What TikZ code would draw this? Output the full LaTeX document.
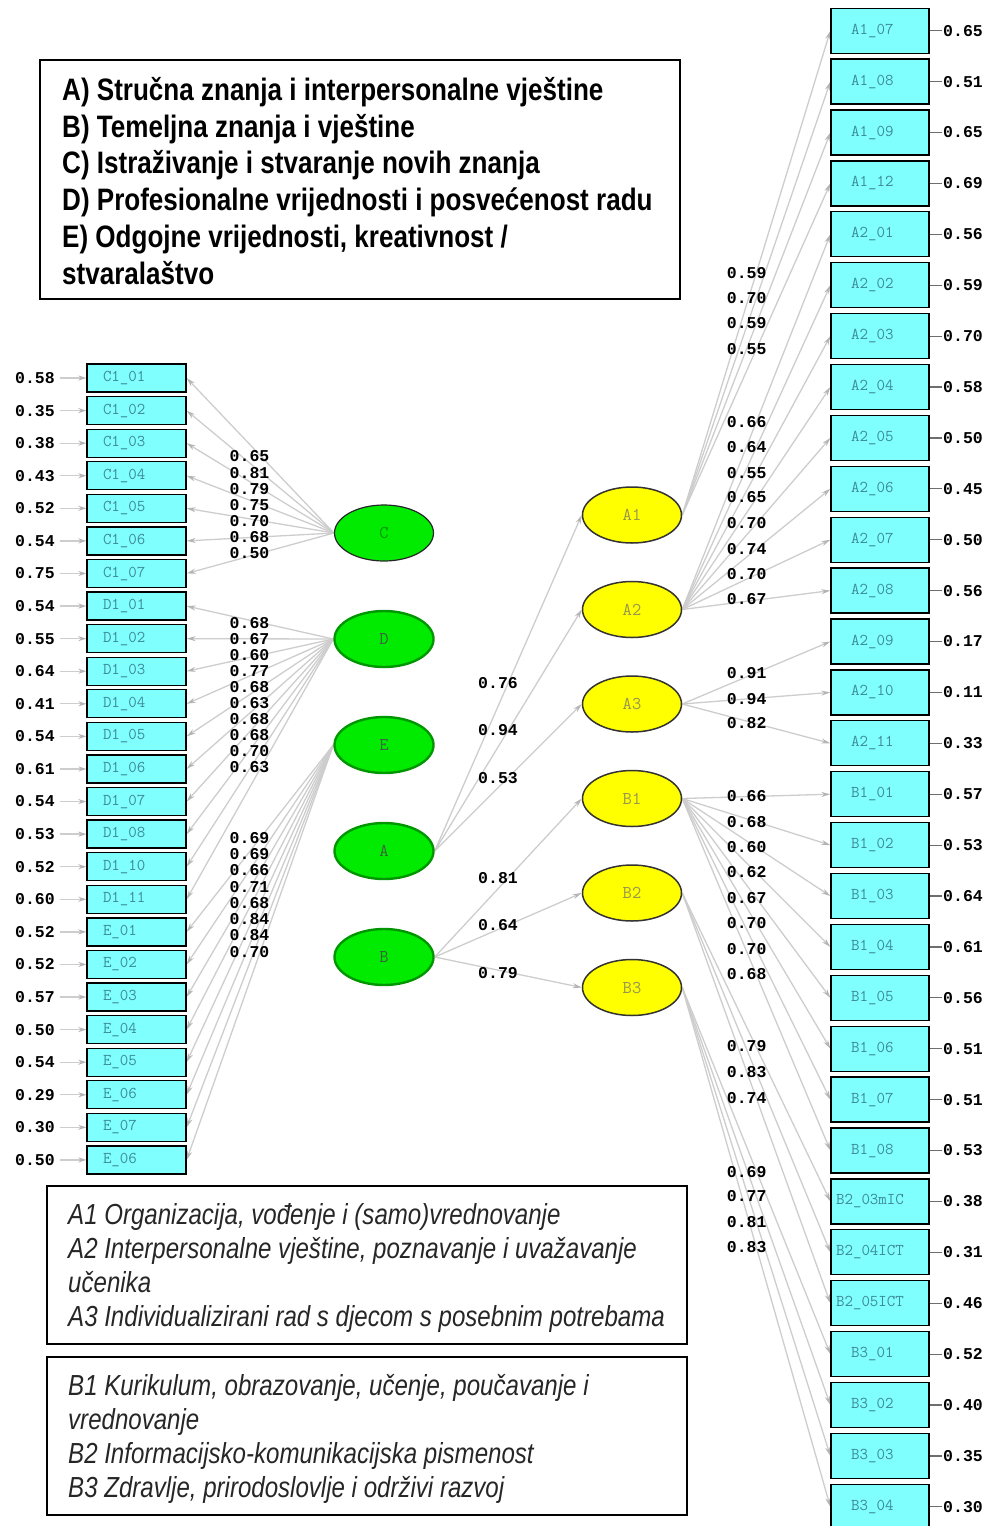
\documentclass[tikz,border=0pt]{standalone}
\usepackage{fontspec}
\setmainfont{Liberation Sans}
\newfontfamily\legfont[FakeStretch=0.84]{Liberation Sans}
\newfontfamily\legifont[FakeStretch=0.83]{Liberation Sans}
\newfontfamily\monof{Liberation Mono}
\usetikzlibrary{arrows.meta,shapes.geometric}
\pgfdeclarelayer{background}
\pgfsetlayers{background,main}

\definecolor{cyanbox}{RGB}{128,255,255}
\definecolor{boxtext}{RGB}{60,140,150}
\definecolor{latgreen}{RGB}{0,235,0}
\definecolor{latgreenline}{RGB}{0,150,0}
\definecolor{latyellow}{RGB}{255,255,0}
\definecolor{yeltext}{RGB}{150,150,80}
\definecolor{linegray}{RGB}{205,205,205}
\definecolor{tipgray}{RGB}{180,180,180}
\definecolor{errgray}{RGB}{110,110,110}
\definecolor{ctext}{RGB}{0,150,0}
\definecolor{lattext}{RGB}{60,100,60}

\tikzset{
  lbox/.style={draw=black, line width=1.3pt, fill=cyanbox, minimum width=99pt,
    minimum height=28pt, inner ysep=0pt, inner xsep=16pt, text width=67pt,
    align=left, text=boxtext, font=\ttfamily\fontsize{16.5}{18}\selectfont},
  rbox/.style={lbox, minimum width=98pt, minimum height=45pt, inner xsep=20pt,
    text width=58pt},
  rboxwide/.style={rbox, inner xsep=5pt, text width=88pt},
  num/.style={inner sep=1.5pt, text=black, font=\monof\bfseries\fontsize{16.5}{18}\selectfont},
  greenlat/.style={ellipse, draw=latgreenline, line width=2.4pt, fill=latgreen,
    minimum width=99pt, minimum height=56pt, inner sep=0pt, text=lattext,
    font=\ttfamily\fontsize{18}{19}\selectfont},
  yellat/.style={ellipse, draw=black!80, line width=1.5pt, fill=latyellow,
    minimum width=99pt, minimum height=56pt, inner sep=0pt, text=yeltext,
    font=\ttfamily\fontsize{18}{19}\selectfont},
  load/.style={draw=linegray, line width=1.3pt,
    -{Stealth[length=9pt,width=5pt,color=tipgray]}},
  errleft/.style={draw=linegray, line width=1.3pt,
    -{Stealth[length=8pt,width=5pt,color=tipgray]}},
  errright/.style={draw=errgray, line width=1.2pt},
  legbox/.style={draw=black, line width=1.5pt},
  legbold/.style={anchor=base west, inner sep=0pt,
    font=\legfont\bfseries\fontsize{31}{36}\selectfont},
  legital/.style={anchor=base west, inner sep=0pt, text=black!85,
    font=\legifont\itshape\fontsize{29}{34}\selectfont},
}

\begin{document}
\begin{tikzpicture}[x=1pt,y=-1pt]
\useasboundingbox (0,0) rectangle (988,1526);
\clip (0,0) rectangle (988,1526);

% ---- legend of the second-order factors
\draw[legbox] (40,60) rectangle (680,299);
\node[legbold] (ta) at (62,100.5) {A) Stručna znanja i interpersonalne vještine};
\node[legbold] (tb) at (62,137.2) {B) Temeljna znanja i vještine};
\node[legbold] (tc) at (62,173.9) {C) Istraživanje i stvaranje novih znanja};
\node[legbold] (td) at (62,210.6) {D) Profesionalne vrijednosti i posvećenost radu};
\node[legbold] (te) at (62,247.3) {E) Odgojne vrijednosti, kreativnost /};
\node[legbold] (tf) at (62,284.0) {stvaralaštvo};

% ---- legends of the first-order factors
\draw[legbox] (47,1186) rectangle (687,1344);
\node[legital] (la1) at (68,1224) {A1 Organizacija, vođenje i (samo)vrednovanje};
\node[legital] (la2) at (68,1258) {A2 Interpersonalne vještine, poznavanje i uvažavanje};
\node[legital] (la3) at (68,1292) {učenika};
\node[legital] (la4) at (68,1326) {A3 Individualizirani rad s djecom s posebnim potrebama};
\draw[legbox] (47,1357) rectangle (687,1515);
\node[legital] (lb1t) at (68,1395) {B1 Kurikulum, obrazovanje, učenje, poučavanje i};
\node[legital] (lb2t) at (68,1429) {vrednovanje};
\node[legital] (lb3t) at (68,1463) {B2 Informacijsko-komunikacijska pismenost};
\node[legital] (lb4t) at (68,1497) {B3 Zdravlje, prirodoslovlje i održivi razvoj};

% ---- left indicators with error variances
\foreach \lab/\err [count=\i] in {C1\_01/0.58, C1\_02/0.35, C1\_03/0.38, C1\_04/0.43,
  C1\_05/0.52, C1\_06/0.54, C1\_07/0.75, D1\_01/0.54, D1\_02/0.55, D1\_03/0.64,
  D1\_04/0.41, D1\_05/0.54, D1\_06/0.61, D1\_07/0.54, D1\_08/0.53, D1\_10/0.52,
  D1\_11/0.60, E\_01/0.52, E\_02/0.52, E\_03/0.57, E\_04/0.50, E\_05/0.54,
  E\_06/0.29, E\_07/0.30, E\_06/0.50} {
  \node[lbox] (lb\i) at (136.5,{378+(\i-1)*32.58}) {\lab};
  \node[num] (le\i) at (35,{378+(\i-1)*32.58}) {\err};
  \begin{pgfonlayer}{background}
    \draw[errleft] (le\i.east) ++(3,0) -- (lb\i.west);
  \end{pgfonlayer}
}

% ---- right indicators with error variances
\foreach \lab/\err/\st [count=\i] in {A1\_07/0.65/rbox, A1\_08/0.51/rbox,
  A1\_09/0.65/rbox, A1\_12/0.69/rbox, A2\_01/0.56/rbox, A2\_02/0.59/rbox,
  A2\_03/0.70/rbox, A2\_04/0.58/rbox, A2\_05/0.50/rbox, A2\_06/0.45/rbox,
  A2\_07/0.50/rbox, A2\_08/0.56/rbox, A2\_09/0.17/rbox, A2\_10/0.11/rbox,
  A2\_11/0.33/rbox, B1\_01/0.57/rbox, B1\_02/0.53/rbox, B1\_03/0.64/rbox,
  B1\_04/0.61/rbox, B1\_05/0.56/rbox, B1\_06/0.51/rbox, B1\_07/0.51/rbox,
  B1\_08/0.53/rbox, B2\_03mIC/0.38/rboxwide, B2\_04ICT/0.31/rboxwide,
  B2\_05ICT/0.46/rboxwide, B3\_01/0.52/rbox, B3\_02/0.40/rbox, B3\_03/0.35/rbox,
  B3\_04/0.30/rbox} {
  \node[\st] (rb\i) at (880,{30.7+(\i-1)*50.9}) {\lab};
  \node[num] (re\i) at (963,{30.7+(\i-1)*50.9}) {\err};
  \draw[errright] (re\i.west) -- (rb\i.east);
}

% ---- second-order factors
\node[greenlat, draw=black!85, line width=1.2pt, text=ctext] (C) at (384,533) {C};
\node[greenlat] (D) at (384,639) {D};
\node[greenlat] (E) at (384,745) {E};
\node[greenlat] (A) at (384,851) {A};
\node[greenlat] (B) at (384,957) {B};

% ---- first-order factors
\node[yellat] (A1) at (632,515) {A1};
\node[yellat] (A2) at (632,609.5) {A2};
\node[yellat] (A3) at (632,704) {A3};
\node[yellat] (B1) at (632,798.5) {B1};
\node[yellat] (B2) at (632,893) {B2};
\node[yellat] (B3) at (632,987.5) {B3};

% ---- loading paths
\begin{pgfonlayer}{background}
  \foreach \i in {1,...,7}   \draw[load] (C.west) -- (lb\i.east);
  \foreach \i in {8,...,17}  \draw[load] (D.west) -- (lb\i.east);
  \foreach \i in {18,...,25} \draw[load] (E.west) -- (lb\i.east);
  \foreach \t in {A1,A2,A3}  \draw[load] (A.east) -- (\t.west);
  \foreach \t in {B1,B2,B3}  \draw[load] (B.east) -- (\t.west);
  \foreach \i in {1,...,4}   \draw[load] (A1.east) -- (rb\i.west);
  \foreach \i in {5,...,12}  \draw[load] (A2.east) -- (rb\i.west);
  \foreach \i in {13,...,15} \draw[load] (A3.east) -- (rb\i.west);
  \foreach \i in {16,...,23} \draw[load] (B1.east) -- (rb\i.west);
  \foreach \i in {24,...,26} \draw[load] (B2.east) -- (rb\i.west);
  \foreach \i in {27,...,30} \draw[load] (B3.east) -- (rb\i.west);
\end{pgfonlayer}

% ---- loading values, left side
\foreach \v [count=\k] in {0.65,0.81,0.79,0.75,0.70,0.68,0.50}
  \node[num] (vc\k) at (249.5,{456.5+(\k-1)*16.1}) {\v};
\foreach \v [count=\k] in {0.68,0.67,0.60,0.77,0.68,0.63,0.68,0.68,0.70,0.63}
  \node[num] (vd\k) at (249.5,{622.7+(\k-1)*16}) {\v};
\foreach \v [count=\k] in {0.69,0.69,0.66,0.71,0.68,0.84,0.84,0.70}
  \node[num] (ve\k) at (249.5,{837.7+(\k-1)*16.3}) {\v};

% ---- loading values, structural paths
\foreach \v/\y [count=\k] in {0.76/683,0.94/730,0.53/778,0.81/878,0.64/925,0.79/973}
  \node[num] (vm\k) at (498,\y) {\v};

% ---- loading values, right side
\foreach \v/\y [count=\k] in {0.59/273,0.70/298,0.59/323,0.55/349,
  0.66/421.7,0.64/447,0.55/472.7,0.65/497,0.70/523,0.74/549,0.70/574,0.67/599,
  0.91/673,0.94/699,0.82/723,
  0.66/796,0.68/821.7,0.60/847,0.62/872,0.67/898,0.70/923,0.70/949,0.68/974,
  0.79/1046,0.83/1072,0.74/1097.7,
  0.69/1171.7,0.77/1196,0.81/1221.7,0.83/1247}
  \node[num] (vr\k) at (746.7,\y) {\v};
\end{tikzpicture}
\end{document}
